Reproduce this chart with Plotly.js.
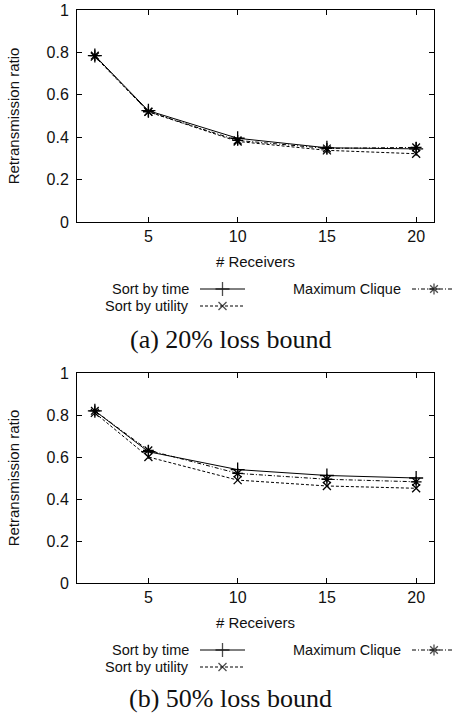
<!DOCTYPE html>
<html>
<head>
<meta charset="utf-8">
<script src="https://cdn.plot.ly/plotly-3.0.1.min.js"></script>
<style>html,body{margin:0;padding:0;background:#fff;}#chart{width:454px;height:715px;}</style>
</head>
<body>
<div id="chart"></div>
<script>
// ---- data ----
var receivers = [2, 5, 10, 15, 20];
var seriesNames = ["Sort by time", "Sort by utility", "Maximum Clique"];
var a_time    = [0.785, 0.525, 0.395, 0.350, 0.345];
var a_utility = [0.780, 0.520, 0.380, 0.338, 0.322];
var a_clique  = [0.785, 0.520, 0.385, 0.347, 0.352];
var b_time    = [0.820, 0.625, 0.540, 0.512, 0.500];
var b_utility = [0.810, 0.600, 0.490, 0.462, 0.451];
var b_clique  = [0.820, 0.632, 0.522, 0.494, 0.482];
var xTicks = [5, 10, 15, 20];
var yTicks = [0, 0.2, 0.4, 0.6, 0.8, 1];
var yTickText = ["0", "0.2", "0.4", "0.6", "0.8", "1"];
var captions = ["(a) 20% loss bound", "(b) 50% loss bound"];
var xTitle = "# Receivers";
var yTitle = "Retransmission ratio";

// ---- styles ----
var W = 454, H = 715;
var sans = "Liberation Sans, Arial, Helvetica, sans-serif";
var serif = "Liberation Serif, Times New Roman, serif";
var styles = [
  {dash: "solid", symbol: "cross-thin-open", size: 10},
  {dash: "3px,2px", symbol: "x-thin-open", size: 8},
  {dash: "4px,2px,1px,2px", symbol: "asterisk-open", size: 9}
];

function series(x, y, i, xa, ya) {
  var s = styles[i];
  return {
    x: x, y: y, xaxis: xa, yaxis: ya, type: "scatter", mode: "lines+markers",
    name: seriesNames[i], showlegend: false, hoverinfo: "skip",
    line: {color: "#000", width: 1, dash: s.dash},
    marker: {symbol: s.symbol, size: s.size, color: "#000", line: {color: "#000", width: 1.3}}
  };
}

var traces = [
  series(receivers, a_time, 0, "x", "y"),
  series(receivers, a_utility, 1, "x", "y"),
  series(receivers, a_clique, 2, "x", "y"),
  series(receivers, b_time, 0, "x2", "y2"),
  series(receivers, b_utility, 1, "x2", "y2"),
  series(receivers, b_clique, 2, "x2", "y2")
];

// ---- legend keys (pixel layout on helper axis x3/y3) ----
var legendRows = [[289, 306], [650, 667]];
var keyCols = [{textRight: 190, x0: 200, x1: 245}, {textRight: 402, x0: 412, x1: 456}];
var keyPlace = [[0, 0], [0, 1], [1, 0]]; // [col,row] per series
var annotations = [];
legendRows.forEach(function (rows) {
  for (var i = 0; i < 3; i++) {
    var c = keyCols[keyPlace[i][0]], yy = rows[keyPlace[i][1]];
    var s = styles[i];
    traces.push({
      x: [c.x0, (c.x0 + c.x1) / 2, c.x1], y: [yy, yy, yy], xaxis: "x3", yaxis: "y3",
      type: "scatter", mode: "lines+markers", showlegend: false, hoverinfo: "skip", cliponaxis: false,
      line: {color: "#000", width: 1, dash: s.dash},
      marker: {symbol: s.symbol, size: [0, s.size, 0], color: "#000", line: {color: "#000", width: 1.3}}
    });
    annotations.push({
      xref: "x3", yref: "y3", x: c.textRight, y: yy, xanchor: "right", yanchor: "middle",
      text: seriesNames[i], showarrow: false, borderpad: 0,
      font: {family: sans, size: 14.5, color: "#111"}
    });
  }
});
var captionY = [339, 698];
captions.forEach(function (t, k) {
  annotations.push({
    xref: "x3", yref: "y3", x: 230, y: captionY[k], xanchor: "center", yanchor: "middle",
    text: t, showarrow: false, font: {family: serif, size: 26, color: "#111"}
  });
});

function xAxis(dom, anchor) {
  return {
    domain: dom, anchor: anchor, range: [1, 21], tickmode: "array", tickvals: xTicks,
    ticks: "inside", ticklen: 5, tickcolor: "#000", mirror: "ticks", showline: true,
    linecolor: "#000", linewidth: 1, showgrid: false, zeroline: false, automargin: false,
    tickfont: {family: sans, size: 16, color: "#111"},
    title: {text: xTitle, font: {family: sans, size: 15, color: "#111"}, standoff: 12}
  };
}
function yAxis(dom, anchor) {
  return {
    domain: dom, anchor: anchor, range: [0, 1], tickmode: "array", tickvals: yTicks, ticktext: yTickText,
    ticks: "inside", ticklen: 5, tickcolor: "#000", mirror: "ticks", showline: true,
    linecolor: "#000", linewidth: 1, showgrid: false, zeroline: false, automargin: false,
    ticklabelstandoff: 4,
    tickfont: {family: sans, size: 16, color: "#111"},
    title: {text: yTitle, font: {family: sans, size: 15, color: "#111"}, standoff: 23}
  };
}

var layout = {
  width: W, height: H, margin: {l: 0, r: 0, t: 0, b: 0},
  paper_bgcolor: "#fff", plot_bgcolor: "rgba(0,0,0,0)", showlegend: false,
  xaxis: xAxis([77 / W, 434 / W], "y"),
  yaxis: yAxis([1 - 222 / H, 1 - 10 / H], "x"),
  xaxis2: xAxis([77 / W, 434 / W], "y2"),
  yaxis2: yAxis([1 - 583 / H, 1 - 373 / H], "x2"),
  xaxis3: {domain: [0, 1], range: [0, W], visible: false, fixedrange: true, anchor: "y3"},
  yaxis3: {domain: [0, 1], range: [H, 0], visible: false, fixedrange: true, anchor: "x3"},
  annotations: annotations
};

Plotly.newPlot("chart", traces, layout, {staticPlot: true, displayModeBar: false});
</script>
</body>
</html>
